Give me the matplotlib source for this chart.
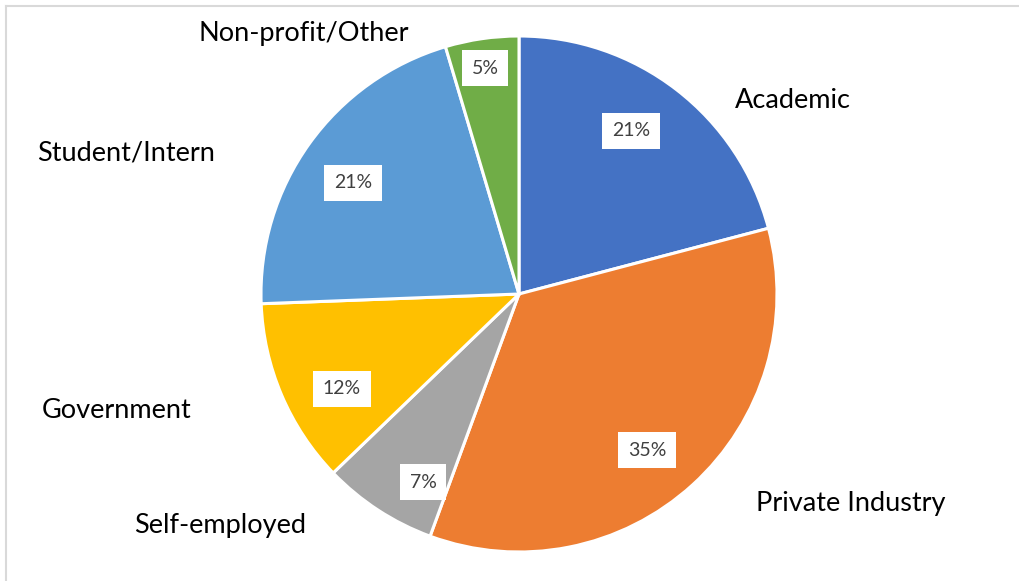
import numpy as np
import matplotlib.pyplot as plt
from matplotlib.lines import Line2D

categories = ["Academic", "Private Industry", "Self-employed", "Government",
              "Student/Intern", "Non-profit/Other"]
shares = [20.9, 34.7, 7.2, 11.6, 21.0, 4.6]
pct_labels = ["21%", "35%", "7%", "12%", "21%", "5%"]
colors = ["#4472C4", "#ED7D31", "#A5A5A5", "#FFC000", "#5B9BD5", "#70AD47"]

# label placement (pixels in the 1020x581 image)
name_pos = [(793, 101), (851, 503), (220, 526), (117, 411), (126, 153), (304, 33)]
pct_pos = [(631, 131), (647, 450), (423, 482), (342, 389), (353, 183), (485, 68)]

W, H = 1020, 581
cx, cy, rad = 519, 294, 258

plt.rcParams['font.family'] = ['Lato', 'DejaVu Sans']

fig = plt.figure(figsize=(W / 100, H / 100), dpi=100)
ax = fig.add_axes([(cx - rad) / W, (H - cy - rad) / H, 2 * rad / W, 2 * rad / H])
ax.pie(shares, colors=colors, startangle=90, counterclock=False, radius=1,
       wedgeprops=dict(edgecolor="white", linewidth=2.2))
ax.set_xlim(-1, 1)
ax.set_ylim(-1, 1)
ax.set_aspect("equal")
ax.axis("off")

for name, (px, py) in zip(categories, name_pos):
    fig.text(px / W, 1 - py / H, name, ha="center", va="center",
             fontsize=19.5, color="black")

for lab, (px, py) in zip(pct_labels, pct_pos):
    fig.text(px / W, 1 - py / H, lab, ha="center", va="center",
             fontsize=14, color="#404040",
             bbox=dict(boxstyle="square,pad=0.5", fc="white", ec="none"))

# thin frame on top and left edges
fig.add_artist(Line2D([6 / W, 1], [1 - 6 / H, 1 - 6 / H], transform=fig.transFigure,
                      color="#d9d9d9", lw=1.5))
fig.add_artist(Line2D([6 / W, 6 / W], [0, 1 - 6 / H], transform=fig.transFigure,
                      color="#d9d9d9", lw=1.5))

fig.savefig("out.png", dpi=100, facecolor="white")
